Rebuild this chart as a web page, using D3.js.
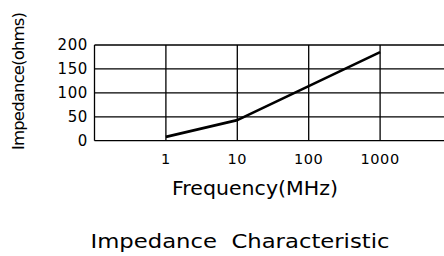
<!DOCTYPE html>
<html><head><meta charset="utf-8">
<script src="https://cdn.jsdelivr.net/npm/d3@7"></script>
<style>html,body{margin:0;padding:0;background:#fff;overflow:hidden}svg{display:block}text{font-family:"DejaVu Sans",sans-serif;fill:#000}</style>
</head><body>
<script>
const frequencies = [1, 10, 100, 1000];
const impedance = [8, 43, 114, 185];
const xTicks = [1, 10, 100, 1000];
const yTicks = [0, 50, 100, 150, 200];
const xTitle = "Frequency(MHz)";
const yTitle = "Impedance(ohms)";
const chartTitle = "Impedance\u00a0\u00a0Characteristic";

const W = 444, H = 256;
const svg = d3.select("body").append("svg").attr("width", W).attr("height", H);
const x = d3.scaleLog().domain([0.1, 10000]).range([94.5, 451.5]);
const y = d3.scaleLinear().domain([0, 200]).range([140.7, 45]);

const g = svg.append("g");
// horizontal grid lines
g.selectAll("line.h").data(yTicks).join("line")
  .attr("x1", x(0.1)).attr("x2", W)
  .attr("y1", d => y(d)).attr("y2", d => y(d))
  .attr("stroke", "#000").attr("stroke-width", 1.3);
// vertical grid lines (left border + decades)
g.selectAll("line.v").data([0.1].concat(xTicks)).join("line")
  .attr("x1", d => x(d)).attr("x2", d => x(d))
  .attr("y1", y(200)).attr("y2", y(0))
  .attr("stroke", "#000").attr("stroke-width", 1.3);

// y tick labels
svg.append("g").selectAll("text").data(yTicks).join("text")
  .attr("x", 88).attr("y", d => y(d)).attr("dy", "0.36em")
  .attr("text-anchor", "end").attr("font-size", 15).attr("letter-spacing", 0.6)
  .text(d => d);
// x tick labels
svg.append("g").selectAll("text").data(xTicks).join("text")
  .attr("x", d => x(d)).attr("y", 164)
  .attr("text-anchor", "middle").attr("font-size", 14.5).attr("letter-spacing", 0.6)
  .text(d => d);

// data line
const line = d3.line().x(d => x(d[0])).y(d => y(d[1]));
svg.append("path").datum(frequencies.map((f, i) => [f, impedance[i]]))
  .attr("d", line).attr("fill", "none").attr("stroke", "#000").attr("stroke-width", 2.6)
  .attr("stroke-linejoin", "round");

// titles
svg.append("text").attr("x", 255).attr("y", 195).attr("text-anchor", "middle")
  .attr("font-size", 19).attr("textLength", 166).attr("lengthAdjust", "spacingAndGlyphs").text(xTitle);
svg.append("text").attr("transform", "translate(24,81) rotate(-90)").attr("text-anchor", "middle")
  .attr("font-size", 16.5).attr("textLength", 138).attr("lengthAdjust", "spacing").text(yTitle);
svg.append("text").attr("x", 240).attr("y", 248).attr("text-anchor", "middle")
  .attr("font-size", 20).attr("textLength", 299).attr("lengthAdjust", "spacingAndGlyphs").text(chartTitle);
</script>
</body></html>
